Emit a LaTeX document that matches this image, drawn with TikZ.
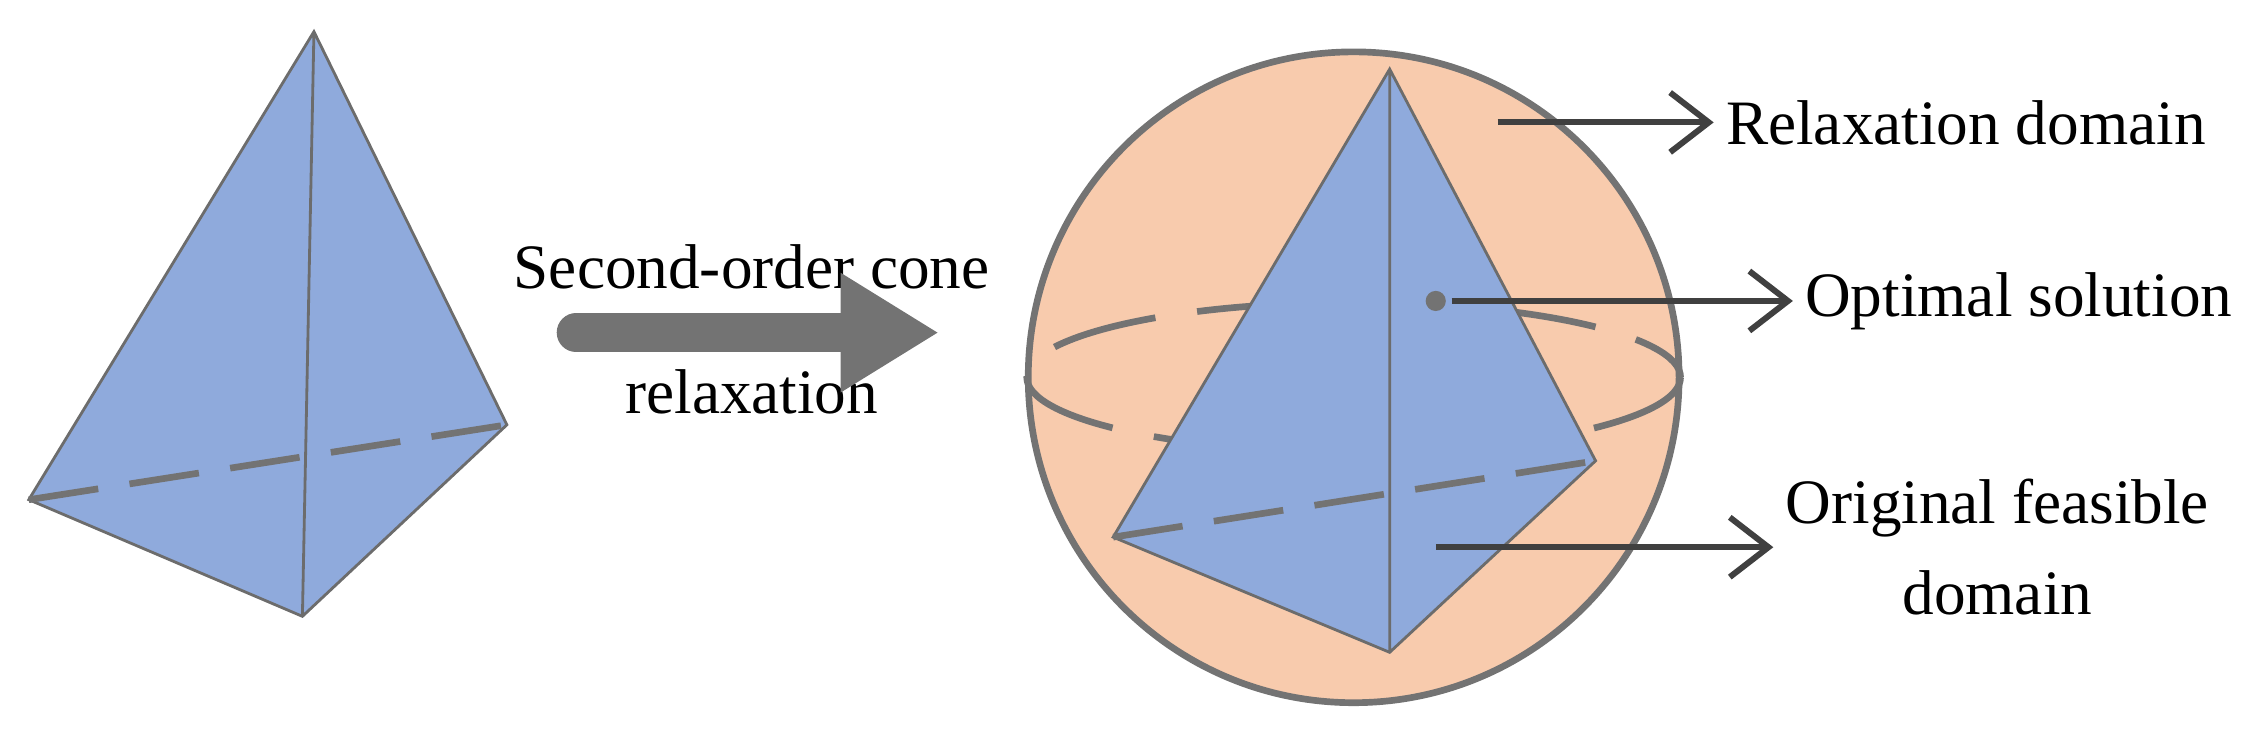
\documentclass[tikz,border=0pt]{standalone}
\usepackage{fontspec}
\setmainfont{Liberation Serif}
\usetikzlibrary{arrows.meta}
\begin{document}
\begin{tikzpicture}[x=0.0144cm,y=-0.0144cm,
 edge/.style={draw=gray!85!black,line width=0.8pt},
 dsh/.style={draw=gray!90!black,line width=1.9pt,dash pattern=on 20pt off 9pt},
 lbl/.style={font=\fontsize{18}{26}\selectfont,align=center},
 pt/.style={-{Straight Barb[length=11pt,width=17pt]},line width=1.7pt,draw=black!75}]
\definecolor{tb}{HTML}{8FAADC}\definecolor{pe}{HTML}{F8CBAD}
\path[use as bounding box] (0,0) rectangle (1568,514.6);
% left tetrahedron
\coordinate (A) at (218,22);\coordinate (L) at (20,347);\coordinate (B) at (210,428);\coordinate (R) at (352,295);
\fill[tb] (A)--(L)--(B)--(R)--cycle;
\draw[edge] (A)--(L)--(B)--(R)--cycle (A)--(B);
\draw[dsh] (L)--(R);
% big arrow
\node[lbl] (t1) at (522,185) {Second-order cone};
\node[lbl] (t2) at (522,272) {relaxation};
\coordinate (s) at (400,231);\coordinate (e) at (652,231);
\draw[line width=11pt,gray!90!black,line cap=round,-{Triangle[length=28pt,width=32pt]}] (s)--(e);
% circle
\node[circle,draw=gray!90!black,line width=1.9pt,fill=pe,minimum size=6.51cm,inner sep=0] (C) at (940,262) {};
\draw[dsh,dash pattern=on 30pt off 12pt] (C.center) ellipse (227 and 52);
% right tetrahedron
\coordinate (A2) at (965,48);\coordinate (L2) at (773,373);\coordinate (B2) at (965,453);\coordinate (R2) at (1108,320);
\fill[tb] (A2)--(L2)--(B2)--(R2)--cycle;
\draw[edge] (A2)--(L2)--(B2)--(R2)--cycle (A2)--(B2);
\draw[dsh] (L2)--(R2);
\fill[gray!90!black] (997,209) circle (7);
% labels
\node[lbl,anchor=west] (r1) at (1190,85) {Relaxation domain};
\node[lbl,anchor=west] (r2) at (1245,209) {Optimal solution};
\node[lbl] (r3) at (1387,380) {Original feasible\\domain};
\coordinate (p1) at (1040,85);\coordinate (p2) at (1008,209);\coordinate (p3) at (997,380);
\draw[pt] (p1)--(r1.west);
\draw[pt] (p2)--(r2.west);
\draw[pt] (p3)--(r3.west);
\end{tikzpicture}
\end{document}
